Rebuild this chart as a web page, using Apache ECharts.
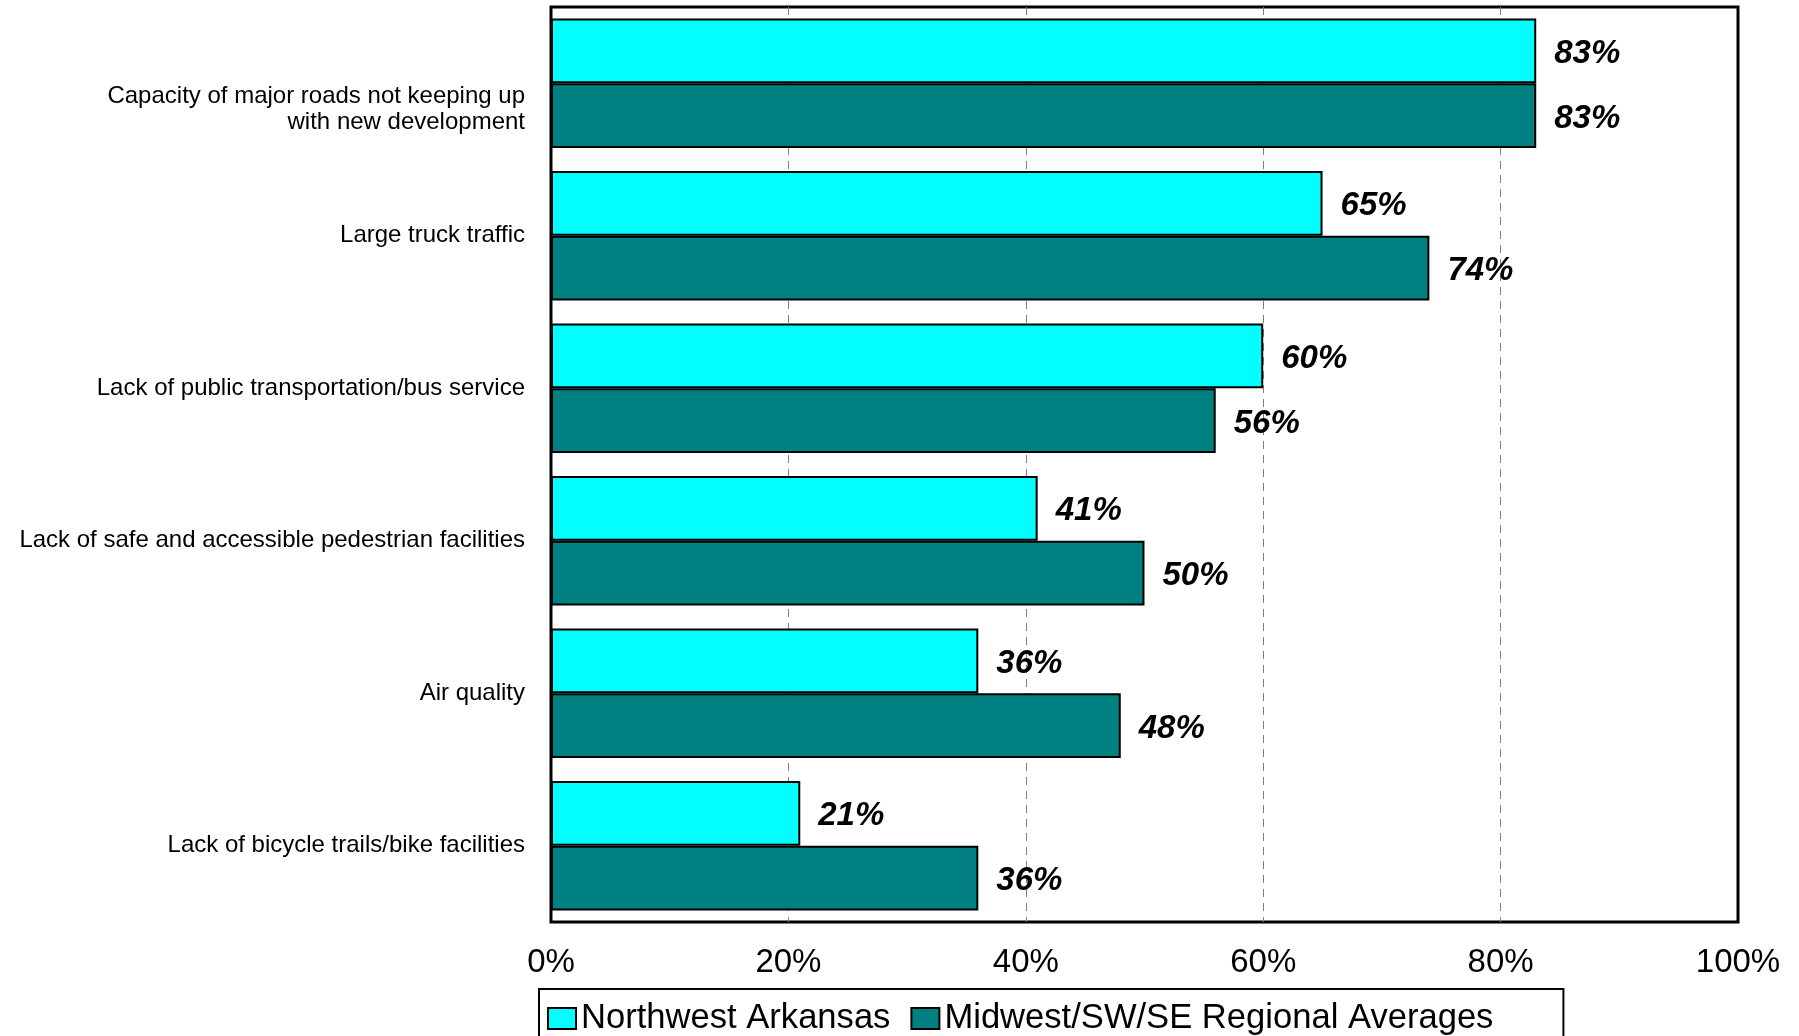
<!DOCTYPE html>
<html>
<head>
<meta charset="utf-8">
<script src="https://cdn.jsdelivr.net/npm/echarts@6/dist/echarts.min.js"></script>
<style>
  html, body { margin: 0; padding: 0; background: #fff; }
  #chart { width: 1799px; height: 1036px; }
</style>
</head>
<body>
<div id="chart"></div>
<script>
  var categories = [
    'Capacity of major roads not keeping up\nwith new development',
    'Large truck traffic',
    'Lack of public transportation/bus service',
    'Lack of safe and accessible pedestrian facilities',
    'Air quality',
    'Lack of bicycle trails/bike facilities'
  ];
  var seriesNames = ['Northwest Arkansas', 'Midwest/SW/SE Regional Averages'];
  var nwArkansas = [83, 65, 60, 41, 36, 21];
  var regionalAvg = [83, 74, 56, 50, 48, 36];
  var xTicks = [0, 20, 40, 60, 80, 100];

  var font = "'Liberation Sans', Arial, sans-serif";

  var chart = echarts.init(document.getElementById('chart'));

  function barSeries(name, data, color) {
    return {
      name: name,
      type: 'bar',
      data: data,
      barGap: '0%',
      barCategoryGap: '15%',
      itemStyle: { color: color, borderColor: '#000', borderWidth: 2 },
      label: {
        show: true,
        position: 'right',
        distance: 18,
        offset: [0, 3],
        formatter: '{c}%',
        color: '#000',
        fontFamily: font,
        fontSize: 33,
        fontWeight: 'bold',
        fontStyle: 'italic'
      }
    };
  }

  var option = {
    animation: false,
    backgroundColor: '#fff',
    textStyle: { fontFamily: font },
    grid: {
      left: 551, right: 61, top: 7, bottom: 114,
      show: true, borderColor: '#000', borderWidth: 3,
      backgroundColor: 'transparent'
    },
    legend: {
      left: 539,
      top: 989,
      padding: [12, 70, 30, 8],
      borderColor: '#000',
      borderWidth: 2,
      itemWidth: 28,
      itemHeight: 21,
      itemGap: 20,
      icon: 'rect',
      textStyle: { color: '#000', fontSize: 34.6, fontFamily: font },
      data: seriesNames
    },
    xAxis: {
      type: 'value',
      min: xTicks[0],
      max: xTicks[xTicks.length - 1],
      interval: 20,
      axisLine: { show: false },
      axisTick: { show: false },
      axisLabel: {
        formatter: '{value}%',
        color: '#000',
        fontSize: 33,
        fontFamily: font,
        margin: 24
      },
      splitLine: {
        show: true,
        showMinLine: false,
        showMaxLine: false,
        lineStyle: { color: '#808080', type: [8, 6], width: 1 }
      }
    },
    yAxis: {
      type: 'category',
      inverse: true,
      data: categories,
      axisLine: { show: false },
      axisTick: { show: false },
      axisLabel: {
        color: '#000',
        fontSize: 24,
        fontFamily: font,
        lineHeight: 26,
        margin: 26,
        align: 'right',
        formatter: function (v) {
          return v.indexOf('\n') >= 0 ? '\n\n' + v : v;
        }
      }
    },
    series: [
      barSeries(seriesNames[0], nwArkansas, '#00FFFF'),
      barSeries(seriesNames[1], regionalAvg, '#008080')
    ]
  };

  chart.setOption(option);
</script>
</body>
</html>
